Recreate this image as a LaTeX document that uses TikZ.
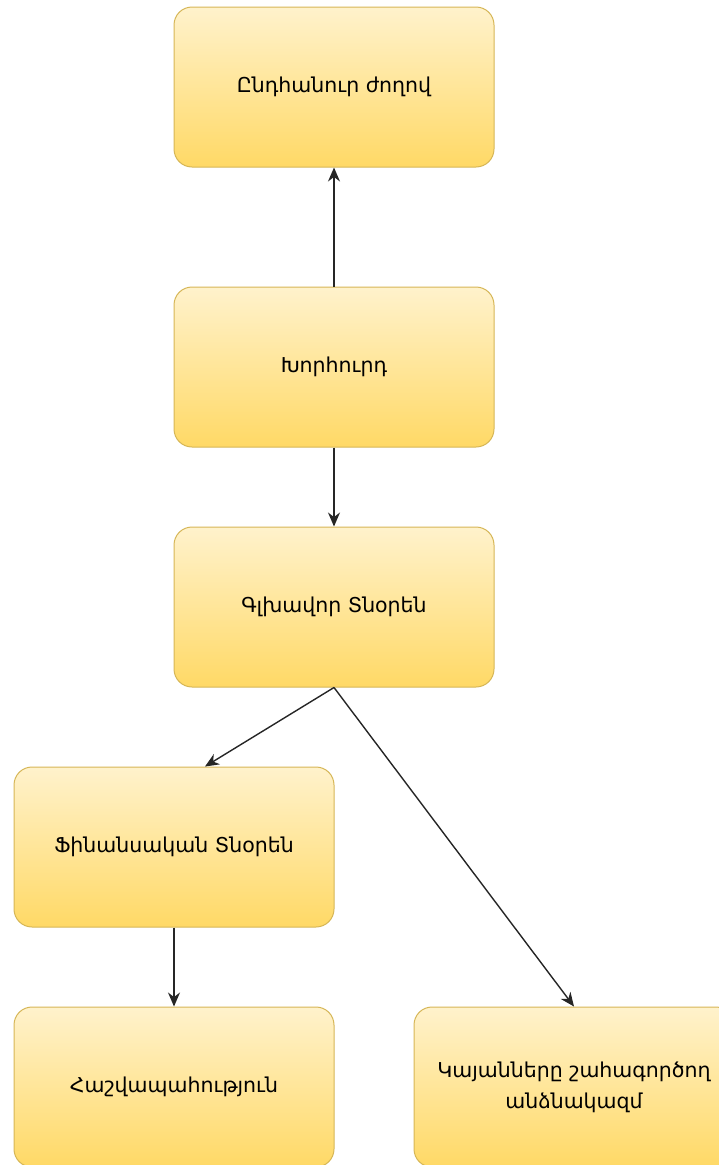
\documentclass[tikz,border=0pt]{standalone}
\usepackage{fontspec}
\setmainfont{DejaVu Sans}
\usetikzlibrary{arrows.meta}

\definecolor{boxtop}{HTML}{FFF2CC}
\definecolor{boxbot}{HTML}{FFD966}
\definecolor{boxline}{HTML}{D6B656}

\tikzset{
	unit/.style={draw=boxline, line width=1pt, rounded corners=18pt,
		top color=boxtop, bottom color=boxbot,
		minimum width=320pt, minimum height=160pt,
		font=\fontsize{20.5}{31}\selectfont, align=center},
	link/.style={-{Stealth[length=14pt,width=12pt]}, line width=1.4pt, black!85}
}

\begin{document}
\begin{tikzpicture}[x=1pt,y=1pt]
\useasboundingbox (0,0) rectangle (719,-1165);

\node[unit] (assembly) at (334,-87) {Ընդհանուր ժողով};
\node[unit] (board) at (334,-367) {Խորհուրդ};
\node[unit] (ceo) at (334,-607) {Գլխավոր Տնօրեն};
\node[unit] (cfo) at (174,-847) {Ֆինանսական Տնօրեն};
\node[unit] (account) at (174,-1087) {Հաշվապահություն};
\node[unit] (staff) at (574,-1087) {Կայանները շահագործող\\անձնակազմ};

\draw[link] (board) -- (assembly);
\draw[link] (board) -- (ceo);
\draw[link] (ceo.south) -- ([xshift=31pt]cfo.north);
\draw[link] (ceo.south) -- (staff.north);
\draw[link] (cfo) -- (account);
\end{tikzpicture}
\end{document}
